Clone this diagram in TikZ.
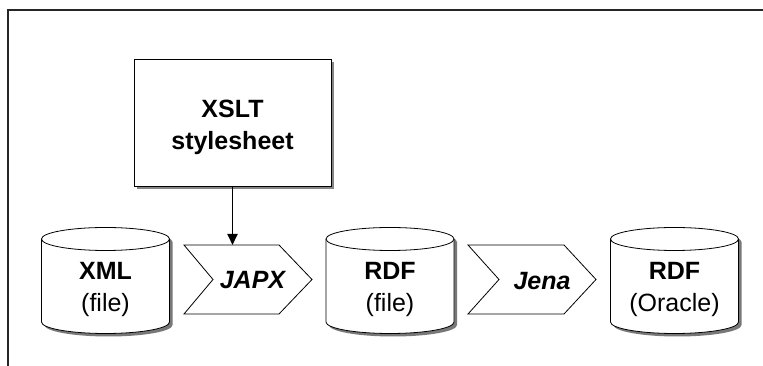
\documentclass[tikz,border=0pt]{standalone}
\usepackage{fontspec}
\setmainfont{Liberation Sans}
\usetikzlibrary{arrows.meta,shadows}
\definecolor{shadowc}{RGB}{120,120,120}
\tikzset{
  every picture/.style={line join=miter},
  outline/.style={draw=black, line width=0.8pt},
  xbox/.style={outline, fill=white, minimum width=197pt, minimum height=127pt, inner sep=0pt,
    drop shadow={shadow xshift=3pt, shadow yshift=-3pt, fill=shadowc, opacity=0.9}},
  txt/.style={align=center, inner sep=0pt, font=\fontsize{25}{32}\selectfont},
  ital/.style={inner sep=0pt, anchor=base, font=\fontsize{25}{30}\selectfont\bfseries\itshape},
  cyl/.pic={
    \fill[shadowc] (-61,38.5) -- (-61,-44.5) arc[start angle=180,end angle=360,x radius=64pt,y radius=11.5pt]
       -- (67,38.5) arc[start angle=0,end angle=180,x radius=64pt,y radius=11.5pt] -- cycle;
    \draw[outline, fill=white] (-64,41.5) -- (-64,-41.5) arc[start angle=180,end angle=360,x radius=64pt,y radius=11.5pt]
       -- (64,41.5) arc[start angle=0,end angle=180,x radius=64pt,y radius=11.5pt] -- cycle;
    \draw[outline] (-64,41.5) arc[start angle=180,end angle=360,x radius=64pt,y radius=11.5pt];
  },
  frame/.style={draw=black!85, line width=1.1pt},
  conn/.style={line width=1.9pt, -{Triangle[length=11pt,width=10pt]}}
}
\begin{document}
\begin{tikzpicture}[x=1pt,y=1pt]
\useasboundingbox (0,0) rectangle (763,366);
% frame
\coordinate (ftl) at (8,356);
\coordinate (ftr) at (763,356);
\coordinate (fbl) at (8,0);
\draw[frame] (ftr) -- (ftl) -- (fbl);

% XSLT box
\node[xbox] (xslt) at (232.5,243.5) {};
\node[txt] (xsltt) at (232.5,238.5) {\bfseries XSLT\\\bfseries stylesheet};

% cylinders
\pic at (105.5,85.5) {cyl};
\pic at (390,85.5) {cyl};
\pic at (674.5,85.5) {cyl};
\node[txt] (xml) at (105.5,76.5) {\bfseries XML\\(file)};
\node[txt] (rdf) at (390,76.5) {\bfseries RDF\\(file)};
\node[txt] (ora) at (674.5,76.5) {\bfseries RDF\\(Oracle)};

% chevrons
\draw[outline, fill=white] (184,121) -- (279,121) -- (312,86.5) -- (279,52) -- (184,52) -- (213,86.5) -- cycle;
\draw[outline, fill=white] (468,121) -- (564,121) -- (596,86.5) -- (564,52) -- (468,52) -- (499,86.5) -- cycle;
\node[ital] (japx) at (252.5,77) {JAPX};
\node[ital] (jena) at (542,76.5) {Jena};

% connector
\coordinate (japxin) at (232.5,121);
\draw[conn] (xslt.south -| japxin) -- (japxin);
\end{tikzpicture}
\end{document}
